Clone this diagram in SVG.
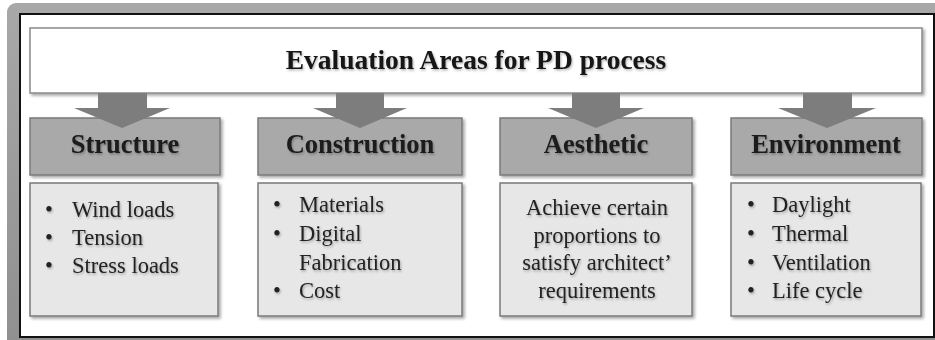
<svg xmlns="http://www.w3.org/2000/svg" width="935" height="340" viewBox="0 0 935 340">
  <defs>
    <filter id="shadow" x="-10%" y="-10%" width="125%" height="130%">
      <feDropShadow dx="2" dy="2" stdDeviation="1.5" flood-color="#000" flood-opacity="0.35"/>
    </filter>
    <filter id="tshadow" x="-5%" y="-20%" width="115%" height="150%">
      <feDropShadow dx="1" dy="1.5" stdDeviation="1" flood-color="#000" flood-opacity="0.3"/>
    </filter>
    <linearGradient id="band" x1="0" y1="0" x2="0" y2="1">
      <stop offset="0" stop-color="#a8a8a8"/>
      <stop offset="1" stop-color="#8f8f8f"/>
    </linearGradient>
  </defs>
  <style>
    .title { font-family: "Liberation Serif", "Times New Roman", serif; font-weight: bold; font-size: 27.5px; fill: #151515; text-anchor: middle; }
    .head { font-family: "Liberation Serif", "Times New Roman", serif; font-weight: bold; font-size: 26.5px; fill: #1a1a1a; text-anchor: middle; }
    .item { font-family: "Liberation Serif", "Times New Roman", serif; font-size: 22.5px; fill: #222; }
    .mid { text-anchor: middle; }
    .hbox { fill: #a9a9a9; stroke: #7a7a7a; stroke-width: 1.5; }
    .bbox { fill: #e7e7e7; stroke: #7a7a7a; stroke-width: 1.5; }
    .arrow { fill: #7d7d7d; }
  </style>

  <!-- outer frame -->
  <rect x="7" y="3" width="940" height="350" rx="9" fill="url(#band)"/>
  <rect x="20" y="14" width="914" height="323" fill="#ffffff" stroke="#111" stroke-width="2"/>

  <!-- title -->
  <g id="title">
    <rect x="30" y="28" width="892" height="65" fill="#ffffff" stroke="#8a8a8a" stroke-width="1.5" filter="url(#shadow)"/>
    <text class="title" x="476" y="69" filter="url(#tshadow)">Evaluation Areas for PD process</text>
  </g>

  <!-- column nodes -->
  <g id="structure">
    <rect class="hbox" x="30" y="118" width="190" height="57" filter="url(#shadow)"/>
    <text class="head" x="125" y="153" filter="url(#tshadow)">Structure</text>
    <rect class="bbox" x="30" y="183" width="188" height="133" filter="url(#shadow)"/>
    <g class="item" filter="url(#tshadow)">
      <text x="45" y="217">•</text><text x="72" y="217">Wind loads</text>
      <text x="45" y="245">•</text><text x="72" y="245">Tension</text>
      <text x="45" y="273">•</text><text x="72" y="273">Stress loads</text>
    </g>
  </g>

  <g id="construction">
    <rect class="hbox" x="258" y="118" width="204" height="57" filter="url(#shadow)"/>
    <text class="head" x="360" y="153" filter="url(#tshadow)">Construction</text>
    <rect class="bbox" x="258" y="183" width="204" height="133" filter="url(#shadow)"/>
    <g class="item" filter="url(#tshadow)">
      <text x="273" y="212">•</text><text x="299" y="212">Materials</text>
      <text x="273" y="241">•</text><text x="299" y="241">Digital</text>
      <text x="299" y="270">Fabrication</text>
      <text x="273" y="298">•</text><text x="299" y="298">Cost</text>
    </g>
  </g>

  <g id="aesthetic">
    <rect class="hbox" x="500" y="118" width="192" height="57" filter="url(#shadow)"/>
    <text class="head" x="596" y="153" filter="url(#tshadow)">Aesthetic</text>
    <rect class="bbox" x="500" y="183" width="192" height="133" filter="url(#shadow)"/>
    <g class="item mid" filter="url(#tshadow)">
      <text x="597" y="215">Achieve certain</text>
      <text x="597" y="243">proportions to</text>
      <text x="597" y="270">satisfy architect’</text>
      <text x="597" y="298">requirements</text>
    </g>
  </g>

  <g id="environment">
    <rect class="hbox" x="731" y="118" width="191" height="57" filter="url(#shadow)"/>
    <text class="head" x="826" y="153" filter="url(#tshadow)">Environment</text>
    <rect class="bbox" x="731" y="183" width="190" height="133" filter="url(#shadow)"/>
    <g class="item" filter="url(#tshadow)">
      <text x="747" y="212">•</text><text x="772" y="212">Daylight</text>
      <text x="747" y="241">•</text><text x="772" y="241">Thermal</text>
      <text x="747" y="270">•</text><text x="772" y="270">Ventilation</text>
      <text x="747" y="298">•</text><text x="772" y="298">Life cycle</text>
    </g>
  </g>

  <!-- block arrows from the title to each column -->
  <g id="connectors">
    <path class="arrow" d="M98,93 H147 V108 H170 L122,128 L74,108 H98 Z"/>
    <path class="arrow" d="M336,93 H384 V108 H407 L360,128 L313,108 H336 Z"/>
    <path class="arrow" d="M572,93 H620 V108 H644 L596,128 L548,108 H572 Z"/>
    <path class="arrow" d="M803,93 H852 V108 H876 L827,128 L778,108 H803 Z"/>
  </g>
</svg>
